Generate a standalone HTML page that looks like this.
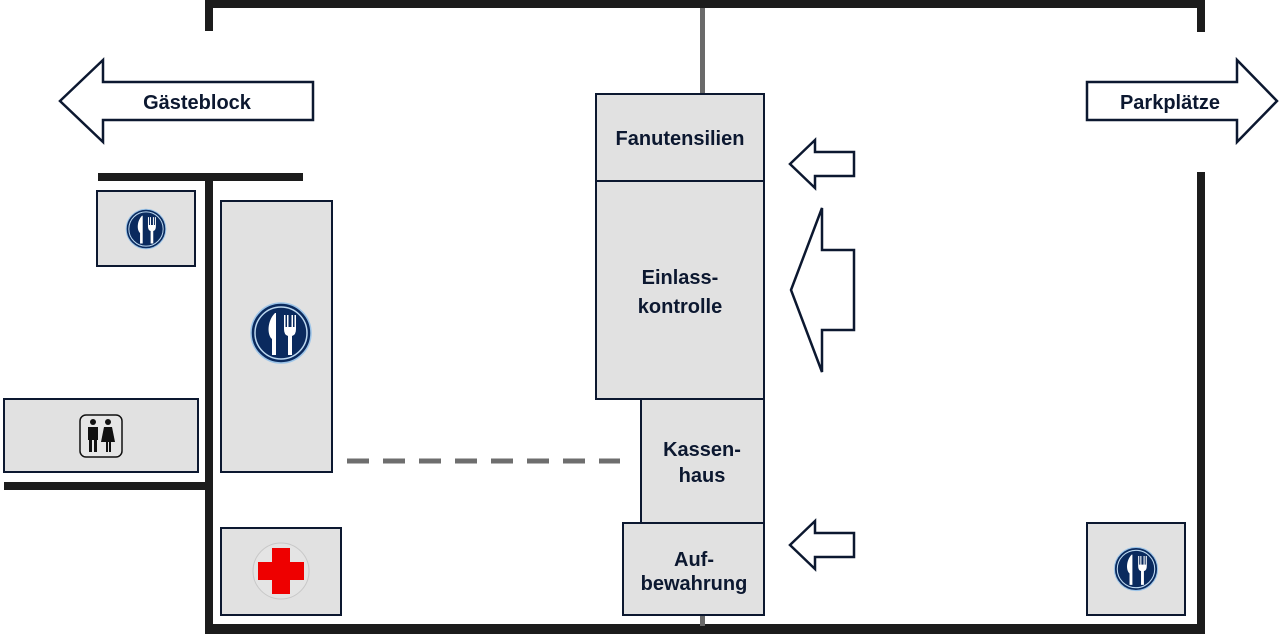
<!DOCTYPE html>
<html><head><meta charset="utf-8"><style>
html,body{margin:0;padding:0;background:#fff;}
svg{display:block;}
text{font-family:"Liberation Sans",sans-serif;font-weight:bold;fill:#0c1830;font-size:20px;text-anchor:middle;}
</style></head><body>
<svg width="1280" height="634" viewBox="0 0 1280 634" xmlns="http://www.w3.org/2000/svg">
<defs>
<g id="food">
<circle r="30" fill="#0a2a5e" stroke="#9cc4e8" stroke-width="1.5"/>
<circle r="26" fill="none" stroke="#bcd8f0" stroke-width="1.5"/>
<path d="M-6,-20 C-14,-12 -14,2 -9,6 L-9,22 L-5,22 L-5,-20 Z" fill="#fff"/>
<path d="M3,-18 L3,-4 Q3,2 7,3 L7,22 L11,22 L11,3 Q15,2 15,-4 L15,-18 L13.5,-18 L13.5,-6 L12,-6 L12,-18 L10.5,-18 L10.5,-6 L7.5,-6 L7.5,-18 L6,-18 L6,-6 L4.5,-6 L4.5,-18 Z" fill="#fff"/>
</g>
</defs>
<g fill="#1c1c1c">
<rect x="205" y="0" width="1000" height="8"/>
<rect x="205" y="0" width="8" height="31"/>
<rect x="1197" y="0" width="8" height="32"/>
<rect x="1197" y="172" width="8" height="462"/>
<rect x="205" y="624" width="1000" height="10"/>
<rect x="98" y="173" width="205" height="8"/>
<rect x="205" y="173" width="8" height="461"/>
<rect x="4" y="482" width="209" height="8"/>
</g>
<rect x="700" y="8" width="5" height="86" fill="#6a6a6a"/>
<rect x="700" y="614" width="5" height="12" fill="#6a6a6a"/>
<line x1="347" y1="461" x2="620" y2="461" stroke="#6e6e6e" stroke-width="5" stroke-dasharray="22,14"/>
<g fill="#e1e1e1" stroke="#0c1830" stroke-width="2">
<rect x="97" y="191" width="98" height="75"/>
<rect x="4" y="399" width="194" height="73"/>
<rect x="221" y="201" width="111" height="271"/>
<rect x="221" y="528" width="120" height="87"/>
<rect x="596" y="94" width="168" height="87"/>
<rect x="596" y="181" width="168" height="218"/>
<rect x="641" y="399" width="123" height="124"/>
<rect x="623" y="523" width="141" height="92"/>
<rect x="1087" y="523" width="98" height="92"/>
</g>
<use href="#food" transform="translate(146,229) scale(0.66)"/>
<use href="#food" transform="translate(281,333)"/>
<use href="#food" transform="translate(1136,569) scale(0.72)"/>
<rect x="80" y="415" width="42" height="42" rx="6" fill="#e6e6e6" stroke="#111" stroke-width="1.5"/>
<g fill="#111">
<circle cx="93" cy="422" r="3"/><rect x="88" y="427" width="10" height="13"/><rect x="89" y="439" width="3" height="13"/><rect x="94" y="439" width="3" height="13"/>
<circle cx="108" cy="422" r="3"/><path d="M104,427 L112,427 L115,442 L101,442 Z"/><rect x="106" y="441" width="2" height="11"/><rect x="109" y="441" width="2" height="11"/>
</g>
<circle cx="281" cy="571" r="28" fill="#e4e4e4" stroke="#c8c8c8" stroke-width="1"/>
<path d="M272,548 h18 v14 h14 v18 h-14 v14 h-18 v-14 h-14 v-18 h14 z" fill="#ee0000"/>
<text x="680" y="145">Fanutensilien</text>
<text x="680" y="284">Einlass-</text>
<text x="680" y="313">kontrolle</text>
<text x="702" y="456">Kassen-</text>
<text x="702" y="482">haus</text>
<text x="694" y="566">Auf-</text>
<text x="694" y="590">bewahrung</text>
<g fill="#fff" stroke="#0c1830" stroke-width="2.5" stroke-linejoin="miter">
<path d="M60,101 L103,60 L103,82 L313,82 L313,120 L103,120 L103,142 Z"/>
<path d="M1277,101 L1237,60 L1237,82 L1087,82 L1087,120 L1237,120 L1237,142 Z"/>
<path d="M790,164 L815,140 L815,152 L854,152 L854,176 L815,176 L815,188 Z"/>
<path d="M791,290 L822,208 L822,250 L854,250 L854,330 L822,330 L822,372 Z"/>
<path d="M790,545 L815,521 L815,533 L854,533 L854,557 L815,557 L815,569 Z"/>
</g>
<text x="197" y="109">Gästeblock</text>
<text x="1170" y="109">Parkplätze</text>
</svg>
</body></html>
